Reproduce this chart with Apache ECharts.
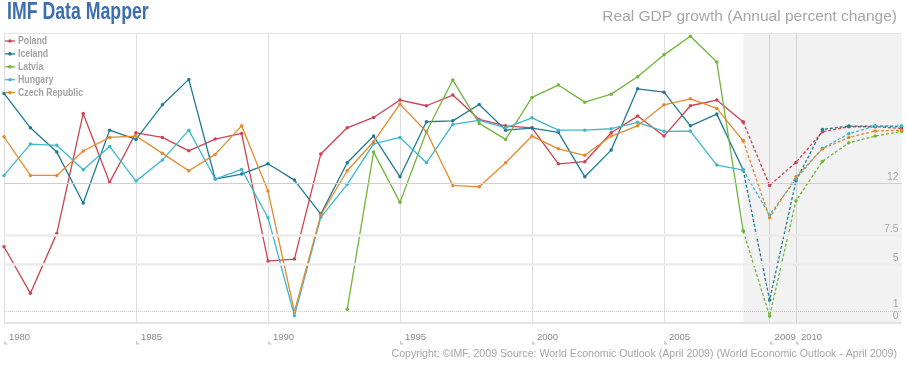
<!DOCTYPE html>
<html>
<head>
<meta charset="utf-8">
<script src="https://cdn.jsdelivr.net/npm/echarts@6/dist/echarts.min.js"></script>
<style>
html,body{margin:0;padding:0;background:#fff;}
#chart{width:906px;height:366px;}
</style>
</head>
<body>
<div id="chart"></div>
<script>
// Categories (years)
const years = ['1980','1981','1982','1983','1984','1985','1986','1987','1988','1989',
  '1990','1991','1992','1993','1994','1995','1996','1997','1998','1999',
  '2000','2001','2002','2003','2004','2005','2006','2007','2008','2009',
  '2010','2011','2012','2013','2014'];
const labeledYears = ['1980','1985','1990','1995','2000','2005','2009','2010'];
const forecastStart = '2008';

// Values in the chart's own axis units (1980-2008 actuals)
const poland  = [6.54,2.53,7.69,18.02,12.08,16.35,15.95,14.80,15.81,16.30,5.31,5.48,14.52,16.78,17.67,19.17,18.68,19.60,17.50,16.95,16.78,13.68,13.86,16.35,17.79,16.07,18.68,19.17,17.27];
const iceland = [19.74,16.78,14.69,10.30,16.58,15.78,18.76,20.95,12.37,12.80,13.68,12.28,9.35,13.77,16.07,12.56,17.30,17.38,18.79,16.58,16.76,16.39,12.56,14.86,20.14,19.85,16.95,17.96,13.14];
const latvia  = [null,null,null,null,null,null,null,null,null,null,null,null,null,1.15,14.69,10.36,16.44,20.89,17.16,15.78,19.40,20.46,18.99,19.68,21.17,23.06,24.67,22.44,7.89];
const hungary = [12.68,15.38,15.27,13.17,15.18,12.19,14.00,16.58,12.37,13.20,9.04,0.60,9.07,11.91,15.40,15.95,13.77,17.07,17.42,16.78,17.64,16.58,16.58,16.70,17.25,16.47,16.50,13.57,13.14];
const czech   = [16.01,12.68,12.68,14.78,15.95,16.07,14.58,13.08,14.49,16.95,11.33,0.95,9.27,13.08,15.58,18.82,16.44,11.82,11.70,13.77,16.07,14.97,14.41,16.07,16.95,18.76,19.28,18.45,15.66];

// Projections 2008-2014
const polandF  = [17.27,11.82,13.80,16.44,16.87,16.87,16.73];
const icelandF = [13.14,1.95,12.22,16.64,16.93,16.93,16.87];
const latviaF  = [7.89,0.58,10.50,13.89,15.49,16.07,16.47];
const hungaryF = [13.14,9.27,12.37,15.01,16.27,16.93,16.95];
const czechF   = [15.66,9.04,12.56,14.97,15.95,16.50,16.58];

// Y tick labels
const yTicks = [0, 1, 5, 7.5, 12];
const yMax = 24.9;

const countries = [
  {name:'Poland', color:'#cc4452', hist:poland, proj:polandF},
  {name:'Iceland', color:'#1f7b93', hist:iceland, proj:icelandF},
  {name:'Latvia', color:'#72b53a', hist:latvia, proj:latviaF},
  {name:'Hungary', color:'#3db8cd', hist:hungary, proj:hungaryF},
  {name:'Czech Republic', color:'#e38a2c', hist:czech, proj:czechF}
];

const startIdx = years.indexOf(forecastStart);
const series = [];

// shaded forecast region
series.push({
  type:'line', data:[], silent:true, z:0,
  markArea:{silent:true, itemStyle:{color:'rgba(0,0,0,0.05)'},
    data:[[{xAxis:forecastStart},{xAxis:years[years.length-1]}]]}
});

// horizontal reference lines with labels
const lineStyles = {
  0:{color:'#e4e4e4', width:2, type:'solid'},
  1:{color:'#c8c8c8', width:1, type:'dotted'},
  5:{color:'#ececec', width:2.5, type:'solid'},
  7.5:{color:'#ececec', width:2.5, type:'solid'},
  12:{color:'#cfcfcf', width:1, type:'solid'}
};
const mlData = yTicks.map(v => ({yAxis:v, lineStyle:lineStyles[v], label:{formatter:String(v)}}));
mlData.push({yAxis:yMax, lineStyle:{color:'#e6e6e6', width:1, type:'solid'}, label:{show:false}});
series.push({
  type:'line', data:[], silent:true, z:1,
  markLine:{silent:true, symbol:['none','none'], animation:false,
    label:{position:'insideEndTop', distance:[3,1], color:'#a8a8a8', fontSize:10.5,
      fontFamily:"'Liberation Sans',Arial,sans-serif"},
    data:mlData}
});

countries.forEach(c => {
  series.push({
    name:c.name, type:'line', data:c.hist, z:3,
    symbol:'circle', symbolSize:3.5, showSymbol:true,
    itemStyle:{color:c.color}, lineStyle:{color:c.color, width:1.3},
    emphasis:{disabled:true}
  });
  const proj = years.map((y,i) => i >= startIdx ? c.proj[i-startIdx] : null);
  series.push({
    name:c.name, type:'line', data:proj, z:3,
    symbol:'circle', symbolSize:3.5, showSymbol:true,
    itemStyle:{color:c.color}, lineStyle:{color:c.color, width:1.3, type:[3,2]},
    emphasis:{disabled:true}
  });
});

// Legend and title drawn as condensed text (graphic)
const graphics = [];
graphics.push({type:'text', x:7, y:1, scaleX:0.77, z:10,
  style:{text:'IMF Data Mapper', fill:'#3b6fb0', font:"bold 23px 'Liberation Sans', Arial, sans-serif",
    textVerticalAlign:'top'}});
countries.forEach((c, i) => {
  const cy = 41 + i * 12.9;
  graphics.push({type:'line', z:10, shape:{x1:5, y1:cy, x2:15, y2:cy}, style:{stroke:c.color, lineWidth:1.3}});
  graphics.push({type:'circle', z:10, shape:{cx:10, cy:cy, r:1.8}, style:{fill:c.color}});
  graphics.push({type:'text', z:10, x:18, y:cy, scaleX:0.76,
    style:{text:c.name, fill:'#a3a3a3', font:"bold 11.5px 'Liberation Sans', Arial, sans-serif",
      textVerticalAlign:'middle'}});
});

const chart = echarts.init(document.getElementById('chart'), null, {renderer:'canvas'});
const isLabeled = (i, v) => labeledYears.indexOf(v) >= 0;
chart.setOption({
  animation:false,
  backgroundColor:'#fff',
  title:[
    {text:'Real GDP growth (Annual percent change)', right:9, top:9, padding:0,
      textStyle:{color:'#a6a6a6', fontSize:15.5, fontWeight:'normal',
        fontFamily:"'Liberation Sans',Arial,sans-serif"}},
    {text:'Copyright: \u00a9IMF, 2009 Source: World Economic Outlook (April 2009) (World Economic Outlook - April 2009)',
      right:9, top:349, padding:0,
      textStyle:{color:'#a6a6a6', fontSize:10.6, fontWeight:'normal',
        fontFamily:"'Liberation Sans',Arial,sans-serif"}}
  ],
  graphic:graphics,
  grid:{left:4, right:4.4, top:33.5, bottom:43.3, containLabel:false},
  xAxis:{
    type:'category', data:years, boundaryGap:false,
    axisLine:{show:false}, axisTick:{show:false},
    splitLine:{show:true, interval:isLabeled, lineStyle:{color:'#dedede', width:1}},
    axisLabel:{interval:isLabeled, align:'left', margin:10,
      formatter:v => '{m|\u25E3}{y|' + v + '}',
      rich:{
        m:{fontSize:5, color:'#cccccc', verticalAlign:'bottom', padding:[0,0,-2,0]},
        y:{fontSize:9.5, color:'#888', padding:[0,0,0,1],
          fontFamily:"'Liberation Sans',Arial,sans-serif"}
      }}
  },
  yAxis:{type:'value', min:0, max:yMax, show:false, splitLine:{show:false}},
  series:series
});
</script>
</body>
</html>
